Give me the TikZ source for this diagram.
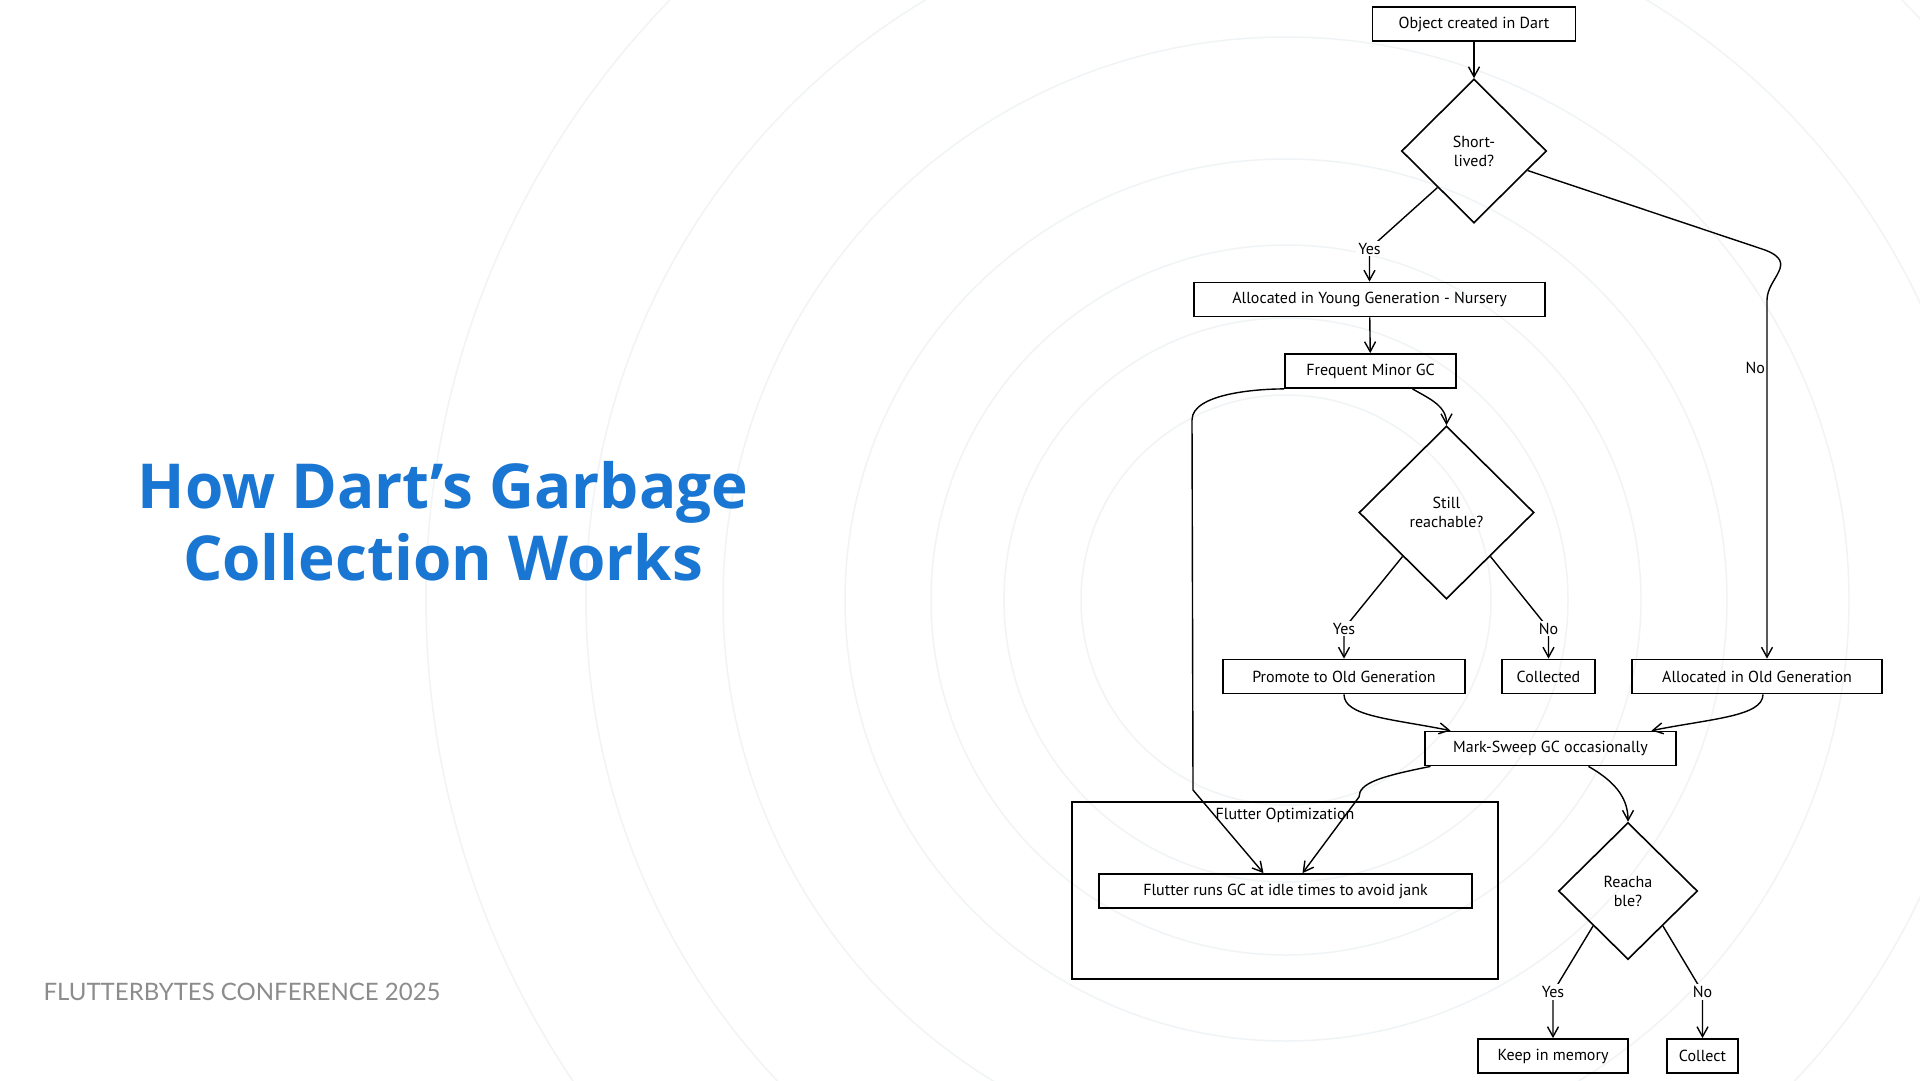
\documentclass[tikz,border=0pt]{standalone}
\usepackage{fontspec}
\setmainfont{PT Sans}
\newfontfamily\titlefont{Open Sans}
\newfontfamily\footfont{Lato}
\usetikzlibrary{shapes.geometric,arrows.meta}

\definecolor{dartblue}{RGB}{25,118,210}
\definecolor{footgray}{RGB}{140,140,140}
\definecolor{ringgray}{RGB}{240,244,246}
\newcommand{\hand}{\fontsize{16}{19}\selectfont}

\tikzset{
  box/.style={draw, line width=1.8pt, minimum height=34pt, inner sep=2pt, font=\hand},
  decision/.style={diamond, draw, line width=1.6pt, inner sep=0pt, align=center, font=\hand},
  flow/.style={line width=1.4pt, -{Straight Barb[length=10pt,width=11pt]}},
  lbl/.style={fill=white, inner sep=2pt, font=\hand},
  title/.style={text=dartblue, font=\titlefont\bfseries\fontsize{62}{72}\selectfont},
  footer/.style={text=footgray, font=\footfont\fontsize{24}{28}\selectfont},
}

\begin{document}
\begin{tikzpicture}[x=1pt,y=-1pt]
    \fill[white] (0,0) rectangle (1920,1080);
    \useasboundingbox (0,0) rectangle (1920,1080);
    % background rings
    \begin{scope}
        \clip (0,0) rectangle (1920,1080);
        \foreach \r in {205,282,355,441,563,700,860}
            \draw[ringgray, line width=1.5pt] (1286,600) circle[radius=\r];
    \end{scope}

    % title and footer
    \node[title, anchor=base] (title) at (443,508) {How Dart’s Garbage};
    \node[title, anchor=base] (title2) at (443,580) {Collection Works};
    \node[footer, anchor=base west] (footer) at (40,1000) {FLUTTERBYTES CONFERENCE 2025};

    % flowchart
    \node[box, minimum width=203pt] (obj) at (1474,24) {Object created in Dart};
    \node[decision, minimum width=145pt, minimum height=144pt] (short) at (1474,151) {Short-\\lived?};
    \node[box, minimum width=351pt] (young) at (1369.5,299.5) {Allocated in Young Generation - Nursery};
    \node[box, minimum width=171pt] (minor) at (1370.5,371) {Frequent Minor GC};
    \node[decision, minimum width=175pt, minimum height=173pt] (still) at (1446.5,512.5) {Still\\reachable?};
    \node[box, minimum width=242pt] (promote) at (1344,676.5) {Promote to Old Generation};
    \node[box, minimum width=93pt] (collected) at (1548.5,676.5) {Collected};
    \node[box, minimum width=250pt] (oldgen) at (1757,676.5) {Allocated in Old Generation};
    \node[box, minimum width=251pt] (mark) at (1550.5,748.5) {Mark-Sweep GC occasionally};
    \node[draw, line width=1.8pt, minimum width=426pt, minimum height=177pt, inner sep=0pt] (group) at (1285,890.5) {};
    \node[anchor=north, font=\hand] (grouplbl) at ([yshift=-3pt]group.north) {Flutter Optimization};
    \node[box, minimum width=373pt] (idle) at (1285.5,891) {Flutter runs GC at idle times to avoid jank};
    \node[decision, minimum width=139pt, minimum height=137pt] (reach) at (1628,891) {Reacha\\ble?};
    \node[box, minimum width=150pt] (keep) at (1553,1056) {Keep in memory};
    \node[box, minimum width=71pt] (collect) at (1702.5,1056) {Collect};

    % bends
    \coordinate (yesA) at ([yshift=33pt]young.north);
    \coordinate (yesB) at ([yshift=30pt]promote.north);
    \coordinate (noB) at ([yshift=30pt]collected.north);
    \coordinate (yesC) at ([yshift=46pt]keep.north);
    \coordinate (noC) at ([yshift=46pt]collect.north);
    \coordinate (oldA) at (1765,250);
    \coordinate (oldB) at (1767,300);
    \coordinate (leftA) at (1192,420);
    \coordinate (leftB) at (1193,790);
    \coordinate (markA) at (1359,797);

    % connectors
    \draw[flow] (obj) -- (short);
    \draw[flow] (short.-135) -- (yesA) node[lbl]{Yes} -- (young.north);
    \draw[flow] (short.-20) -- (oldA) .. controls +(34,13) and +(0,-22) .. (oldB)
        -- node[pos=0.19, anchor=east, xshift=2pt, font=\hand]{No} ([xshift=10pt]oldgen.north);
    \draw[flow] (young) -- (minor);
    \draw[flow] ([xshift=42pt]minor.south) to[out=-30,in=90] (still.north);
    \draw[flow] (minor.south west) to[out=180,in=90,looseness=0.7] (leftA) -- (leftB) -- ([xshift=-22pt]idle.north);
    \draw[flow] (still.-135) -- (yesB) node[lbl]{Yes} -- (promote.north);
    \draw[flow] (still.-45) -- (noB) node[lbl]{No} -- (collected.north);
    \draw[flow] (promote.south) .. controls +(0,22) and +(-60,-12) .. ([xshift=-100pt]mark.north);
    \draw[flow] ([xshift=6pt]oldgen.south) .. controls +(0,22) and +(60,-12) .. ([xshift=101pt]mark.north);
    \draw[flow] ([xshift=-120pt]mark.south) .. controls +(-50,10) and +(0,-14) .. (markA) -- ([xshift=17pt]idle.north);
    \draw[flow] ([xshift=38pt]mark.south) to[out=-30,in=90] (reach.north);
    \draw[flow] (reach.-135) -- (yesC) node[lbl]{Yes} -- (keep.north);
    \draw[flow] (reach.-45) -- (noC) node[lbl]{No} -- (collect.north);
\end{tikzpicture}
\end{document}
